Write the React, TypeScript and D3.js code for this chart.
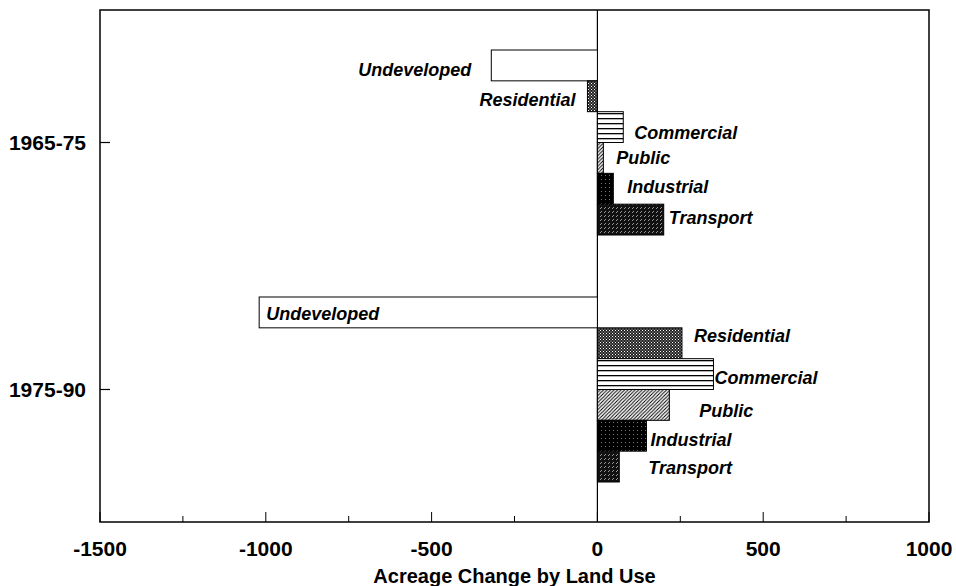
import React from "react";
import * as d3 from "d3";

const periods = ["1965-75", "1975-90"];
const landUses = ["Undeveloped", "Residential", "Commercial", "Public", "Industrial", "Transport"];
const change1965 = [-320, -30, 78, 18, 48, 200];
const change1975 = [-1020, 255, 350, 217, 148, 66];
const xTicks = [-1500, -1000, -500, 0, 500, 1000];
const xMinorTicks = [-1250, -750, -250, 250, 750];
const xTitle = "Acreage Change by Land Use";

// label placement relative to bar end: [anchor, dx, dy]
const labelLayout: [string, number, number][][] = [
  [["end", -20, 4.5], ["end", -12, 3], ["start", 11, 5.5], ["start", 13, 0], ["start", 14, -2], ["start", 5, -2]],
  [["start", 7, 1.5], ["start", 12, -8], ["start", 1, 4], ["start", 30, 6], ["start", 4, 4], ["start", 29, 1]],
];

const W = 956, H = 586;
const M = { left: 100, right: 27, top: 10, bottom: 64 };

export default function App() {
  const series = [change1965, change1975];
  const x = d3.scaleLinear().domain([-1500, 1000]).range([M.left, W - M.right]);
  const y = d3.scaleBand<string>().domain(periods).range([M.top, H - M.bottom])
    .paddingInner(0.251).paddingOuter(0.162);
  const sub = d3.scaleBand<string>().domain(landUses).range([0, y.bandwidth()]).padding(0);
  const fills = ["#fff", "url(#pRes)", "url(#pCom)", "url(#pPub)", "url(#pInd)", "url(#pTrn)"];
  const x0 = x(0);
  const fontFam = "'Liberation Sans', Arial, sans-serif";
  return (
    <svg width={W} height={H} style={{ position: "absolute", left: 0, top: 0, background: "#fff" }}>
      <defs>
        <pattern id="pRes" width="3" height="3" patternUnits="userSpaceOnUse">
          <rect width="3" height="3" fill="#222" />
          <rect x="0" y="0" width="1" height="1" fill="#fff" />
          <rect x="1.5" y="1.5" width="1" height="1" fill="#ddd" />
        </pattern>
        <pattern id="pCom" width="6" height="5" patternUnits="userSpaceOnUse">
          <rect width="6" height="5" fill="#fff" />
          <rect y="3" width="6" height="1.3" fill="#000" />
        </pattern>
        <pattern id="pPub" width="3.5" height="3.5" patternUnits="userSpaceOnUse">
          <rect width="3.5" height="3.5" fill="#fff" />
          <path d="M-1,1 L1,-1 M0,3.5 L3.5,0 M2.5,4.5 L4.5,2.5" stroke="#000" strokeWidth="1" />
        </pattern>
        <pattern id="pInd" width="4" height="4" patternUnits="userSpaceOnUse">
          <rect width="4" height="4" fill="#000" />
          <rect x="1" y="1" width="1" height="1" fill="#777" />
        </pattern>
        <pattern id="pTrn" width="4" height="4" patternUnits="userSpaceOnUse">
          <rect width="4" height="4" fill="#111" />
          <path d="M0,3 L2,1" stroke="#bbb" strokeWidth="0.8" />
        </pattern>
      </defs>
      {/* frame */}
      <rect x={M.left} y={M.top} width={W - M.right - M.left} height={H - M.bottom - M.top}
        fill="none" stroke="#000" strokeWidth={1.5} />
      {/* zero line */}
      <line x1={x0} x2={x0} y1={M.top} y2={H - M.bottom} stroke="#000" strokeWidth={1.2} />
      {/* bars */}
      {periods.map((p, gi) => (
        <g key={p} transform={`translate(0,${y(p)})`}>
          {series[gi].map((v, i) => {
            const yy = sub(landUses[i])!;
            const bx = Math.min(x(v), x0);
            return (
              <rect key={i} x={bx} y={yy} width={Math.abs(x(v) - x0)} height={sub.bandwidth()}
                fill={fills[i]} stroke="#000" strokeWidth={1} />
            );
          })}
          {series[gi].map((v, i) => {
            const [anchor, dx, dy] = labelLayout[gi][i];
            const cy = sub(landUses[i])! + sub.bandwidth() / 2 + dy;
            return (
              <text key={"t" + i} x={x(v) + dx} y={cy} dy="0.35em" textAnchor={anchor}
                fontFamily={fontFam} fontWeight="bold" fontStyle="italic" fontSize={18} fill="#000">
                {landUses[i]}
              </text>
            );
          })}
        </g>
      ))}
      {/* y category ticks and labels */}
      {periods.map((p) => {
        const cy = y(p)! + y.bandwidth() / 2;
        return (
          <g key={"y" + p}>
            <line x1={M.left} x2={M.left + 10} y1={cy} y2={cy} stroke="#000" strokeWidth={1.2} />
            <text x={M.left - 14} y={cy} dy="0.35em" textAnchor="end" fontFamily={fontFam}
              fontWeight="bold" fontSize={21} fill="#000">{p}</text>
          </g>
        );
      })}
      {/* x ticks */}
      {xTicks.map((t) => (
        <g key={"xt" + t}>
          <line x1={x(t)} x2={x(t)} y1={H - M.bottom} y2={H - M.bottom - 10} stroke="#000" strokeWidth={1} />
          <text x={x(t)} y={H - M.bottom + 34} textAnchor="middle" fontFamily={fontFam}
            fontWeight="bold" fontSize={21} fill="#000">{t}</text>
        </g>
      ))}
      {xMinorTicks.map((t) => (
        <line key={"xm" + t} x1={x(t)} x2={x(t)} y1={H - M.bottom} y2={H - M.bottom - 6} stroke="#000" strokeWidth={1} />
      ))}
      <text x={(M.left + W - M.right) / 2} y={H - 3} textAnchor="middle" fontFamily={fontFam}
        fontWeight="bold" fontSize={20} fill="#000">{xTitle}</text>
    </svg>
  );
}
